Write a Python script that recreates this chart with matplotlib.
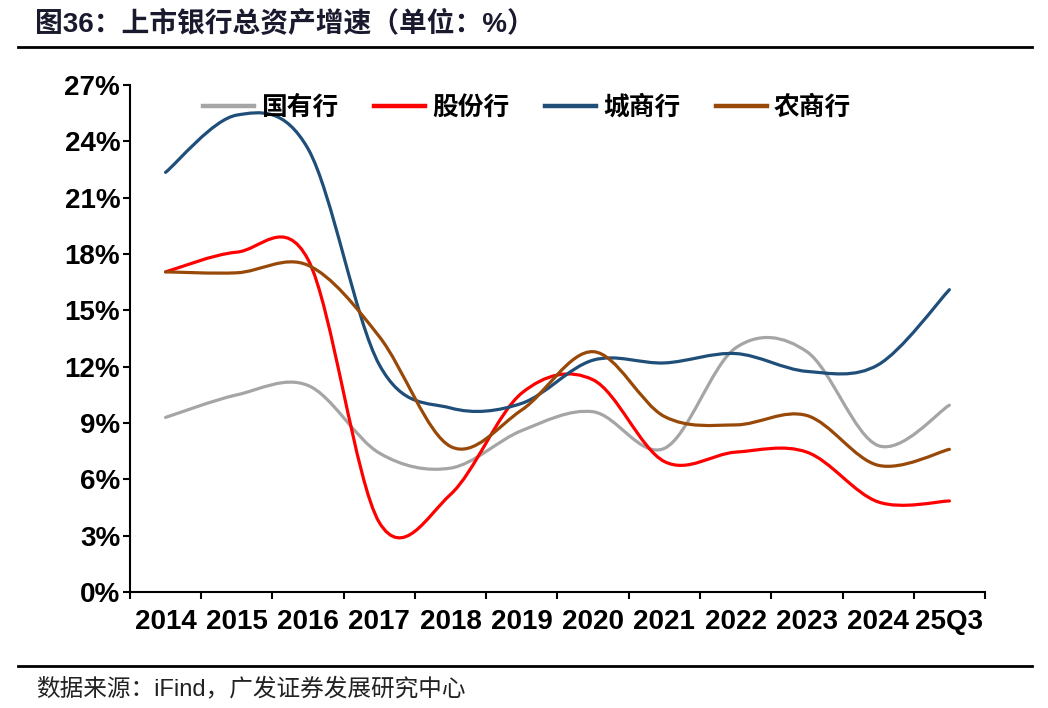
import numpy as np
import matplotlib.pyplot as plt
from matplotlib.path import Path
from matplotlib.patches import PathPatch
from matplotlib.lines import Line2D

plt.rcParams['font.family'] = ['Liberation Sans', 'Noto Sans CJK SC', 'DejaVu Sans']

# 数据 (%)
categories = ['2014', '2015', '2016', '2017', '2018', '2019', '2020',
              '2021', '2022', '2023', '2024', '25Q3']
state_owned = [9.3, 10.5, 11.0, 7.4, 6.6, 8.6, 9.6, 7.65, 13.0, 12.8, 7.8, 9.95]
joint_stock = [17.05, 18.1, 17.7, 3.7, 5.2, 10.6, 11.3, 6.95, 7.45, 7.45, 4.8, 4.85]
city_comm = [22.35, 25.4, 23.6, 12.1, 9.8, 10.05, 12.35, 12.2, 12.7, 11.75, 12.1, 16.1]
rural_comm = [17.05, 17.0, 17.4, 13.6, 7.75, 9.7, 12.8, 9.35, 8.9, 9.4, 6.75, 7.6]

series_names = ['国有行', '股份行', '城商行', '农商行']
series_colors = ['#A5A5A5', '#FF0000', '#1F4E79', '#984807']


def smooth_path(y):
    # excel style smoothed line: cubic bezier through every point
    pts = np.column_stack([np.arange(len(y)), y])
    verts = [pts[0]]
    codes = [Path.MOVETO]
    n = len(pts)
    for i in range(n - 1):
        p0 = pts[max(i - 1, 0)]
        p1 = pts[i]
        p2 = pts[i + 1]
        p3 = pts[min(i + 2, n - 1)]
        verts += [p1 + (p2 - p0) / 6, p2 - (p3 - p1) / 6, p2]
        codes += [Path.CURVE4] * 3
    return Path(verts, codes)


fig = plt.figure(figsize=(10.48, 7.08), dpi=100)
ax = fig.add_axes([0.124, 0.1638, 0.8159, 0.7161])

handles = []
for vals, name, col in zip([state_owned, joint_stock, city_comm, rural_comm],
                           series_names, series_colors):
    ax.add_patch(PathPatch(smooth_path(vals), fill=False, edgecolor=col,
                           lw=2.3, capstyle='round', joinstyle='round'))
    handles.append(Line2D([], [], color=col, lw=3.2, label=name))

ax.set_xlim(-0.5, 11.5)
ax.set_ylim(0, 27)
ax.set_yticks(np.arange(0, 28, 3))
ax.set_yticklabels(['%d%%' % v for v in np.arange(0, 28, 3)],
                   fontsize=20, fontweight='bold')
ax.set_xticks(np.arange(-0.5, 12, 1))
ax.set_xticklabels([])
ax.set_xticks(np.arange(12), minor=True)
ax.set_xticklabels(categories, minor=True, fontsize=20, fontweight='bold')
ax.tick_params(axis='x', which='minor', length=0, pad=12)
ax.tick_params(axis='x', which='major', length=5, width=1.5, direction='out')
ax.tick_params(axis='y', length=5, width=1.5, pad=2)

for s in ['top', 'right']:
    ax.spines[s].set_visible(False)
for s in ['left', 'bottom']:
    ax.spines[s].set_linewidth(1.5)

fig.legend(handles=handles, loc='center left',
           bbox_to_anchor=(203 / 1048, 1 - 107 / 708), ncol=4, frameon=False,
           prop={'family': ['Noto Sans CJK SC'], 'weight': 'bold', 'size': 18.5},
           handlelength=2.0, handletextpad=0.25, columnspacing=1.4,
           borderpad=0, borderaxespad=0)

fig.text(35 / 1048, 1 - 25 / 708, '图36：上市银行总资产增速（单位：%）',
         fontsize=20, fontweight='bold', color='#1a1a2e', va='center')
fig.add_artist(Line2D([18 / 1048, 1032 / 1048], [1 - 47 / 708] * 2,
                      color='black', lw=2))
fig.add_artist(Line2D([18 / 1048, 1032 / 1048], [1 - 666 / 708] * 2,
                      color='black', lw=2))
fig.text(36 / 1048, 1 - 690 / 708, '数据来源：iFind，广发证券发展研究中心',
         fontsize=17, color='#222222', va='center')

fig.savefig('out.png', dpi=100)
